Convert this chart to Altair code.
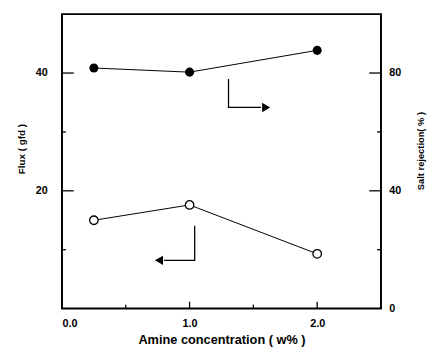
import altair as alt
import pandas as pd

# data
conc = [0.25, 1.0, 2.0]
flux = [15.0, 17.6, 9.3]            # left axis (gfd), open circles
rejection = [81.7, 80.3, 87.7]      # right axis (%), filled circles

x_labels = [0.0, 1.0, 2.0]
x_major = [1.0, 2.0]
x_minor = [0.5, 1.5]
left_labels = [20, 40]
left_major = [20, 40]
left_minor = [10, 30]
right_labels = [0, 40, 80]
right_major = [40, 80]
right_minor = [20, 60]

# annotation arrows (data coordinates)
right_arrow_x = [1.305, 1.305, 1.56]
right_arrow_y = [78.0, 68.3, 68.3]
right_head = (1.60, 68.3)
left_arrow_x = [1.04, 1.04, 0.80]
left_arrow_y = [14.05, 8.2, 8.2]
left_head = (0.76, 8.2)

W, H = 325, 300
FONT = "Liberation Sans"

df = pd.DataFrame({"conc": conc, "flux": flux, "rej": rejection})

xs = alt.Scale(domain=[0, 2.5], nice=False, zero=False)
ls = alt.Scale(domain=[0, 50], nice=False, zero=False)
rs = alt.Scale(domain=[0, 100], nice=False, zero=False)

xaxis = alt.Axis(values=x_labels, format=".1f", ticks=False, domain=False,
                 grid=False, labelFont=FONT, labelFontWeight="bold", labelFontSize=11,
                 labelColor="black", labelPadding=9, title="Amine concentration ( w% )",
                 titleFont=FONT, titleFontWeight="bold", titleFontSize=13, titleColor="black",
                 titleY=32, titleBaseline="middle")


def X(field):
    return alt.X(field, scale=xs, axis=xaxis)


leftaxis = alt.Axis(values=left_labels, ticks=False, domain=False, grid=False,
                    labelFont=FONT, labelFontWeight="bold", labelFontSize=11,
                    labelColor="black", labelPadding=15, title="Flux ( gfd )",
                    titleFont=FONT, titleFontWeight="bold", titleFontSize=10,
                    titleColor="black", titleAngle=-90, titleX=-41, titleY=137,
                    titleAlign="center", titleBaseline="middle")
rightaxis = alt.Axis(values=right_labels, ticks=False, domain=False, grid=False,
                     orient="right", labelFont=FONT, labelFontWeight="bold",
                     labelFontSize=11, labelColor="black", labelPadding=8,
                     title="Salt rejection( % )", titleFont=FONT, titleFontWeight="bold",
                     titleFontSize=9.5, titleColor="black", titleAngle=-90, titleX=40,
                     titleY=139, titleAlign="center", titleBaseline="middle")

flux_line = alt.Chart(df).mark_line(color="black", strokeWidth=1).encode(
    x=X("conc:Q"), y=alt.Y("flux:Q", scale=ls, axis=leftaxis))
flux_pts = alt.Chart(df).mark_point(shape="circle", size=75, filled=True, fill="white",
                                    stroke="black", strokeWidth=1.3, opacity=1).encode(
    x=X("conc:Q"), y=alt.Y("flux:Q", scale=ls, axis=None))

rej_line = alt.Chart(df).mark_line(color="black", strokeWidth=1).encode(
    x=X("conc:Q"), y=alt.Y("rej:Q", scale=rs, axis=rightaxis))
rej_pts = alt.Chart(df).mark_point(shape="circle", size=85, filled=True, color="black",
                                   opacity=1).encode(
    x=X("conc:Q"), y=alt.Y("rej:Q", scale=rs, axis=None))

# arrows
ra = pd.DataFrame({"conc": right_arrow_x, "y": right_arrow_y, "o": [0, 1, 2]})
la = pd.DataFrame({"conc": left_arrow_x, "y": left_arrow_y, "o": [0, 1, 2]})
r_arrow = alt.Chart(ra).mark_line(color="black", strokeWidth=1.3).encode(
    x=X("conc:Q"), y=alt.Y("y:Q", scale=rs, axis=None), order="o:Q")
l_arrow = alt.Chart(la).mark_line(color="black", strokeWidth=1.3).encode(
    x=X("conc:Q"), y=alt.Y("y:Q", scale=ls, axis=None), order="o:Q")
r_head = alt.Chart(pd.DataFrame({"conc": [right_head[0]], "y": [right_head[1]]})).mark_point(
    shape="triangle-right", size=90, filled=True, color="black", opacity=1).encode(
    x=X("conc:Q"), y=alt.Y("y:Q", scale=rs, axis=None))
l_head = alt.Chart(pd.DataFrame({"conc": [left_head[0]], "y": [left_head[1]]})).mark_point(
    shape="triangle-left", size=90, filled=True, color="black", opacity=1).encode(
    x=X("conc:Q"), y=alt.Y("y:Q", scale=ls, axis=None))


# inward ticks
def xticks(vals, length):
    return alt.Chart(pd.DataFrame({"conc": vals})).mark_rule(color="black", strokeWidth=1.3).encode(
        x=X("conc:Q"), y=alt.value(H), y2=alt.value(H - length))


def lticks(vals, length):
    return alt.Chart(pd.DataFrame({"v": vals})).mark_rule(color="black", strokeWidth=1.3).encode(
        y=alt.Y("v:Q", scale=ls, axis=None), x=alt.value(0), x2=alt.value(length))


def rticks(vals, length):
    return alt.Chart(pd.DataFrame({"v": vals})).mark_rule(color="black", strokeWidth=1.3).encode(
        y=alt.Y("v:Q", scale=rs, axis=None), x=alt.value(W), x2=alt.value(W - length))


chart = alt.layer(
    flux_line, rej_line, flux_pts, rej_pts, r_arrow, l_arrow, r_head, l_head,
    xticks(x_major, 7), xticks(x_minor, 4), lticks(left_major, 12), lticks(left_minor, 4),
    rticks(right_major, 12), rticks(right_minor, 4),
).resolve_scale(y="independent").properties(
    width=W, height=H,
    autosize=alt.AutoSizeParams(type="none"),
    padding={"left": 55, "top": 3, "right": 53, "bottom": 43},
).configure(background="white").configure_view(stroke="black", strokeWidth=2)

chart.save("out.html", embed_options={"renderer": "svg", "actions": False})
